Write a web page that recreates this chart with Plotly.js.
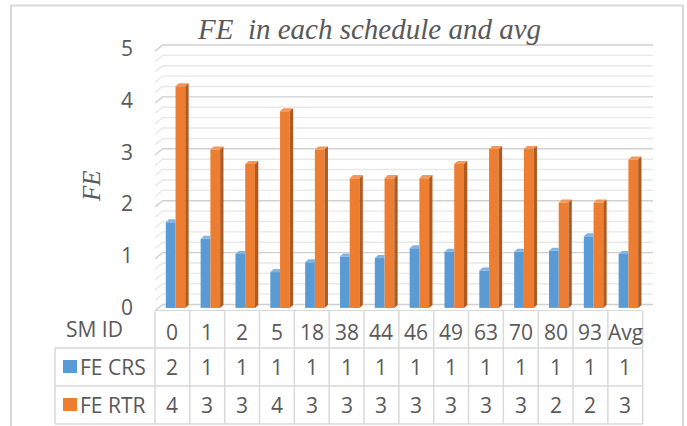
<!DOCTYPE html>
<html>
<head>
<meta charset="utf-8">
<script src="https://cdn.plot.ly/plotly-3.0.1.min.js"></script>
<style>html,body{margin:0;padding:0;background:#fff;}#chart{width:687px;height:426px;}</style>
</head>
<body>
<div id="chart"></div>
<script>
// ---- data ----
const categories = ['0','1','2','5','18','38','44','46','49','63','70','80','93','Avg'];
const feCRS = [1.65,1.33,1.04,0.69,0.88,0.99,0.96,1.15,1.08,0.72,1.08,1.10,1.38,1.04];
const feRTR = [4.27,3.05,2.77,3.79,3.05,2.50,2.50,2.50,2.77,3.06,3.06,2.03,2.03,2.86];
const crsTable = ['2','1','1','1','1','1','1','1','1','1','1','1','1','1'];
const rtrTable = ['4','3','3','4','3','3','3','3','3','3','3','2','2','3'];
const seriesNames = ['FE CRS','FE RTR'];
const yTicks = [0,1,2,3,4,5];

// ---- geometry ----
const W=687, H=426, L=155, R=34, T=38, B=115;
const plotW=W-L-R, plotH=H-T-B;
const xRange=[-0.5, 13.796], yRange=[-0.06, 5.2];
const xp = px => (px-L)/plotW;
const yp = py => (H-B-py)/plotH;
const colPx = k => L + k*(plotW/(xRange[1]-xRange[0]));

const idx = categories.map((c,i)=>i);
const BLUE='#5b9bd5', ORANGE='#ed7d31', TXT='#595959';
const bOff=-0.19, bW=0.28, oOff=0.09, oW=0.28, dx=0.095, dy=0.058;

function poly(fn){
  const xs=[], ys=[];
  idx.forEach(i=>{ const p=fn(i); p.forEach(q=>{xs.push(q[0]);ys.push(q[1]);}); xs.push(null); ys.push(null); });
  return {xs, ys};
}
const bTop = poly(i=>{const v=feCRS[i], xl=i+bOff, xr=i+bOff+bW; return [[xl,v],[xl+dx,v+dy],[xr,v+dy],[xr,v]];});
const oTop = poly(i=>{const v=feRTR[i], xl=i+oOff, xr=i+oOff+oW; return [[xl,v],[xl+dx,v+dy],[xr+dx,v+dy],[xr,v]];});
const oSide = poly(i=>{const v=feRTR[i], xr=i+oOff+oW; return [[xr,0],[xr+dx,dy],[xr+dx,v+dy],[xr,v]];});

const traces = [
  {type:'bar', name:seriesNames[0], x:idx, y:feCRS, offset:bOff, width:bW, marker:{color:BLUE, line:{width:0}}, hoverinfo:'skip'},
  {type:'bar', name:seriesNames[1], x:idx, y:feRTR, offset:oOff, width:oW, marker:{color:ORANGE, line:{width:0}}, hoverinfo:'skip'},
  {type:'scatter', mode:'lines', x:bTop.xs, y:bTop.ys, fill:'toself', fillcolor:'#82b4e2', line:{width:0, color:'#82b4e2'}, hoverinfo:'skip'},
  {type:'scatter', mode:'lines', x:oTop.xs, y:oTop.ys, fill:'toself', fillcolor:'#f3975a', line:{width:0, color:'#f3975a'}, hoverinfo:'skip'},
  {type:'scatter', mode:'lines', x:oSide.xs, y:oSide.ys, fill:'toself', fillcolor:'#ae5a21', line:{width:0, color:'#ae5a21'}, hoverinfo:'skip'}
];

const shapes = [];
// gridlines (perspective back wall)
for(let k=0;k<=25;k++){
  const v=k*0.2, major=(k%5===0);
  shapes.push({type:'path', xref:'x', yref:'y', layer:'below',
    path:`M -0.5,${(v-0.055).toFixed(3)} L -0.28,${(v+0.065).toFixed(3)} L ${xRange[1]},${(v+0.065).toFixed(3)}`,
    line:{color: major?'#d0d0d0':'#e8e8e8', width:1.4}});
}
shapes.push({type:'line', xref:'x', yref:'y', layer:'below', x0:-0.5, x1:13.5, y0:-0.055, y1:-0.055, line:{color:'#d9d9d9', width:1.3}});
// outer border
shapes.push({type:'rect', xref:'paper', yref:'paper', x0:xp(11), x1:xp(683), y0:yp(5.5), y1:yp(445), line:{color:'#d9d9d9', width:2}});
// table lines
const TL='#d9d9d9';
[348,386,424].forEach(py=>shapes.push({type:'line', xref:'paper', yref:'paper', x0:xp(55), x1:xp(colPx(14)), y0:yp(py), y1:yp(py), line:{color:TL, width:1.5}}));
shapes.push({type:'line', xref:'paper', yref:'paper', x0:xp(55), x1:xp(55), y0:yp(348), y1:yp(424), line:{color:TL, width:1.5}});
for(let k=0;k<=14;k++){
  shapes.push({type:'line', xref:'paper', yref:'paper', x0:xp(colPx(k)), x1:xp(colPx(k)), y0:yp(311), y1:yp(424), line:{color:TL, width:1.5}});
}
// legend keys
shapes.push({type:'rect', xref:'paper', yref:'paper', x0:xp(63), x1:xp(77), y0:yp(360), y1:yp(373), fillcolor:BLUE, line:{width:0}});
shapes.push({type:'rect', xref:'paper', yref:'paper', x0:xp(63), x1:xp(77), y0:yp(398), y1:yp(411), fillcolor:ORANGE, line:{width:0}});

const SANS = 'Open Sans';
const tf = {family:SANS, size:21, color:TXT};
const annotations = [];
annotations.push({text:'SM ID', xref:'paper', yref:'paper', x:xp(94.5), y:yp(329), xanchor:'center', yanchor:'middle', showarrow:false, font:tf});
categories.forEach((c,i)=>annotations.push({text:c, xref:'x', yref:'paper', x:i, y:yp(332), xanchor:'center', yanchor:'middle', showarrow:false, font:tf}));
crsTable.forEach((c,i)=>annotations.push({text:c, xref:'x', yref:'paper', x:i, y:yp(367), xanchor:'center', yanchor:'middle', showarrow:false, font:tf}));
rtrTable.forEach((c,i)=>annotations.push({text:c, xref:'x', yref:'paper', x:i, y:yp(405), xanchor:'center', yanchor:'middle', showarrow:false, font:tf}));
annotations.push({text:seriesNames[0], xref:'paper', yref:'paper', x:xp(78), y:yp(367), xanchor:'left', yanchor:'middle', showarrow:false, font:tf});
annotations.push({text:seriesNames[1], xref:'paper', yref:'paper', x:xp(78), y:yp(405), xanchor:'left', yanchor:'middle', showarrow:false, font:tf});
annotations.push({text:'FE', xref:'paper', yref:'paper', x:xp(91), y:yp(186), xanchor:'center', yanchor:'middle', textangle:-90, showarrow:false,
  font:{family:'Liberation Serif', size:25, style:'italic', color:TXT}});

const layout = {
  width:W, height:H,
  margin:{l:L, r:R, t:T, b:B, pad:0},
  paper_bgcolor:'#ffffff', plot_bgcolor:'rgba(0,0,0,0)',
  showlegend:false, barmode:'overlay',
  title:{text:'FE\u00a0 in each schedule and avg', xref:'container', yref:'container', x:369.5/W, y:1-29/H, xanchor:'center', yanchor:'middle',
    font:{family:'Liberation Serif', size:29, style:'italic', color:TXT}},
  xaxis:{range:xRange, showgrid:false, zeroline:false, showline:false, ticks:'', showticklabels:false, tickvals:idx, ticktext:categories, fixedrange:true},
  yaxis:{range:yRange, tickvals:yTicks, ticktext:yTicks.map(String), showgrid:false, zeroline:false, showline:false, ticks:'', ticklabelstandoff:21,
    tickfont:{family:SANS, size:21, color:TXT}, fixedrange:true},
  shapes, annotations
};
Plotly.newPlot('chart', traces, layout, {displayModeBar:false, staticPlot:true});
</script>
</body>
</html>
